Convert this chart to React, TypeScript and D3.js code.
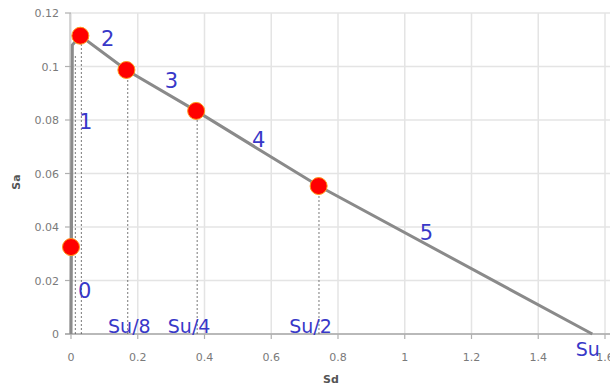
import React from 'react';
import * as d3 from 'd3';

// capacity curve data (Sd, Sa)
const curveSd = [0, 0.004, 0.028, 0.166, 0.375, 0.742, 1.562];
const curveSa = [0, 0.108, 0.1115, 0.0987, 0.0834, 0.0553, 0];

// red marker points
const pointSd = [0.0, 0.028, 0.166, 0.375, 0.742];
const pointSa = [0.0325, 0.1115, 0.0987, 0.0834, 0.0553];

// dotted guide lines
const guideSd = [0.013, 0.031, 0.17, 0.378, 0.743];
const guideTop = [0.104, 0.1115, 0.0987, 0.0834, 0.0553];

// branch labels
const segLabels = ['0', '1', '2', '3', '4', '5'];
const segSd = [0.021, 0.024, 0.09, 0.281, 0.542, 1.045];
const segSa = [0.0135, 0.0765, 0.1075, 0.0918, 0.0698, 0.0352];

// displacement labels
const suLabels = ['Su/8', 'Su/4', 'Su/2', 'Su'];
const suSd = [0.111, 0.29, 0.654, 1.512];
const suSa = [0.0003, 0.0003, 0.0003, -0.0082];

const xTicks = [0, 0.2, 0.4, 0.6, 0.8, 1, 1.2, 1.4, 1.6];
const yTicks = [0, 0.02, 0.04, 0.06, 0.08, 0.1, 0.12];

const W = 610;
const H = 387;
const margin = { top: 13, right: 5, bottom: 53, left: 71 };

export default function App() {
  const x = d3.scaleLinear().domain([0, 1.6]).range([margin.left, W - margin.right]);
  const y = d3.scaleLinear().domain([0, 0.12]).range([H - margin.bottom, margin.top]);

  const line = d3
    .line<number>()
    .x((d, i) => x(curveSd[i]))
    .y((d) => y(d));

  const tickFont = { fontFamily: 'DejaVu Sans', fontSize: 11, fill: '#7a7a7a' };
  const blue = '#3838c8';

  return (
    <svg
      width={W}
      height={H}
      style={{ position: 'absolute', left: 0, top: 0, background: '#fff' }}
    >
      {/* grid */}
      {xTicks.map((t) => (
        <line key={'gx' + t} x1={x(t)} x2={x(t)} y1={y(0.12)} y2={y(0)} stroke="#e4e4e4" strokeWidth={1.5} />
      ))}
      {yTicks.map((t) => (
        <line key={'gy' + t} x1={x(0)} x2={W} y1={y(t)} y2={y(t)} stroke="#e4e4e4" strokeWidth={1.5} />
      ))}

      {/* axes */}
      <line x1={x(0) - 1} x2={x(0) - 1} y1={y(0.12)} y2={y(0)} stroke="#c8c8c8" strokeWidth={1.5} />
      <line x1={x(0) - 6} x2={W} y1={y(0)} y2={y(0)} stroke="#a8a8a8" strokeWidth={1.5} />
      {yTicks.map((t) => (
        <line key={'ty' + t} x1={x(0) - 6} x2={x(0)} y1={y(t)} y2={y(t)} stroke="#b0b0b0" strokeWidth={1.2} />
      ))}
      {xTicks.map((t) => (
        <line key={'tx' + t} x1={x(t)} x2={x(t)} y1={y(0)} y2={y(0) + 5} stroke="#b0b0b0" strokeWidth={1.2} />
      ))}

      {/* tick labels */}
      {yTicks.map((t) => (
        <text key={'ly' + t} x={x(0) - 12} y={y(t) + 4} textAnchor="end" {...tickFont}>
          {d3.format('~g')(t)}
        </text>
      ))}
      {xTicks.map((t) => (
        <text key={'lx' + t} x={x(t)} y={y(0) + 27} textAnchor="middle" {...tickFont}>
          {d3.format('~g')(t)}
        </text>
      ))}

      {/* axis titles */}
      <text x={331} y={383} textAnchor="middle" fontFamily="DejaVu Sans" fontSize={11} fontWeight="bold" fill="#555">
        Sd
      </text>
      <text
        transform={`translate(20,${182}) rotate(-90)`}
        textAnchor="middle"
        fontFamily="DejaVu Sans"
        fontSize={11}
        fontWeight="bold"
        fill="#555"
      >
        Sa
      </text>

      {/* dotted guides */}
      {guideSd.map((s, i) => (
        <line
          key={'g' + i}
          x1={x(s)}
          x2={x(s)}
          y1={y(0)}
          y2={y(guideTop[i])}
          stroke="#555"
          strokeWidth={0.8}
          strokeDasharray="2,2"
        />
      ))}

      {/* capacity curve */}
      <path d={line(curveSa) || ''} fill="none" stroke="#8a8a8a" strokeWidth={3} />

      {/* points */}
      {pointSd.map((s, i) => (
        <circle key={'p' + i} cx={x(s)} cy={y(pointSa[i])} r={8.5} fill="#ff0000" stroke="#ff9a1a" strokeWidth={1} />
      ))}

      {/* labels */}
      {segLabels.map((l, i) => (
        <text key={'s' + i} x={x(segSd[i])} y={y(segSa[i])} fontFamily="DejaVu Sans" fontSize={21} fill={blue}>
          {l}
        </text>
      ))}
      {suLabels.map((l, i) => (
        <text key={'u' + i} x={x(suSd[i])} y={y(suSa[i])} fontFamily="DejaVu Sans" fontSize={19} fill={blue}>
          {l}
        </text>
      ))}
    </svg>
  );
}
